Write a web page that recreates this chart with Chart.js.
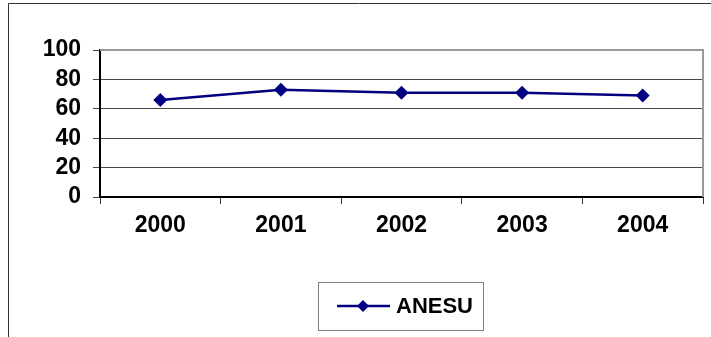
<!DOCTYPE html>
<html>
<head>
<meta charset="utf-8">
<script src="https://cdn.jsdelivr.net/npm/chart.js@4/dist/chart.umd.min.js"></script>
<style>
  html, body { margin: 0; padding: 0; background: #fff; }
  #wrap { width: 711px; height: 337px; position: relative; }
</style>
</head>
<body>
<div id="wrap"><canvas id="anesuChart" width="711" height="337"></canvas></div>
<script>
const years = ["2000", "2001", "2002", "2003", "2004"];
const anesuValues = [66, 73, 71, 71, 69];
const seriesName = "ANESU";
const yTicks = [0, 20, 40, 60, 80, 100];

const navy = "#000080";
const fontFamily = "'Liberation Sans', Arial, sans-serif";
const labelFont = { family: fontFamily, size: 23, weight: "bold" };

// outer frame, grey plot frame and the boxed legend under the chart
const framePlugin = {
  id: "frame",
  beforeDatasetsDraw(chart) {
    const { ctx, chartArea } = chart;
    ctx.save();
    ctx.strokeStyle = "#9a9a9a";
    ctx.lineWidth = 2;
    ctx.beginPath();
    ctx.moveTo(chartArea.left, chartArea.top);
    ctx.lineTo(chartArea.right, chartArea.top);
    ctx.lineTo(chartArea.right, chartArea.bottom);
    ctx.stroke();
    ctx.restore();
  },
  afterDraw(chart) {
    const ctx = chart.ctx;
    ctx.save();
    // outer border
    ctx.strokeStyle = "#333";
    ctx.lineWidth = 1;
    ctx.beginPath();
    ctx.moveTo(8.5, 337);
    ctx.lineTo(8.5, 3.5);
    ctx.lineTo(711, 3.5);
    ctx.stroke();

    // legend box
    ctx.strokeStyle = "#808080";
    ctx.strokeRect(318.5, 282.5, 165, 48);
    ctx.strokeStyle = navy;
    ctx.lineWidth = 2.5;
    ctx.beginPath();
    ctx.moveTo(337, 306);
    ctx.lineTo(390, 306);
    ctx.stroke();
    ctx.fillStyle = navy;
    ctx.beginPath();
    ctx.moveTo(363, 300);
    ctx.lineTo(369, 306);
    ctx.lineTo(363, 312);
    ctx.lineTo(357, 306);
    ctx.closePath();
    ctx.fill();
    ctx.fillStyle = "#000";
    ctx.font = "bold 22px " + fontFamily;
    ctx.textBaseline = "middle";
    ctx.fillText(seriesName, 396, 307);
    ctx.restore();
  },
};

new Chart(document.querySelector("#anesuChart"), {
  type: "line",
  data: {
    labels: years,
    datasets: [
      {
        label: seriesName,
        data: anesuValues,
        borderColor: navy,
        backgroundColor: navy,
        borderWidth: 2.5,
        pointStyle: "rectRot",
        pointRadius: 7,
        pointBorderWidth: 0,
        tension: 0,
      },
    ],
  },
  options: {
    responsive: false,
    animation: false,
    layout: { padding: { left: 0, top: 50, right: 8, bottom: 0 } },
    plugins: { legend: { display: false }, tooltip: { enabled: false } },
    scales: {
      x: {
        offset: true,
        grid: { offset: true, drawOnChartArea: false, tickLength: 7, color: "#333" },
        border: { color: "#000", width: 2 },
        ticks: { color: "#000", font: labelFont, padding: 8, maxRotation: 0, autoSkip: false },
        afterFit(scale) { scale.height = 140; },
      },
      y: {
        min: 0,
        max: 100,
        afterBuildTicks(scale) { scale.ticks = yTicks.map((v) => ({ value: v })); },
        grid: { color: "#444", tickLength: 7, lineWidth: 1 },
        border: { color: "#000", width: 2 },
        ticks: { color: "#000", font: labelFont, padding: 12, autoSkip: false },
        afterFit(scale) { scale.width = 100; },
      },
    },
  },
  plugins: [framePlugin],
});
</script>
</body>
</html>
